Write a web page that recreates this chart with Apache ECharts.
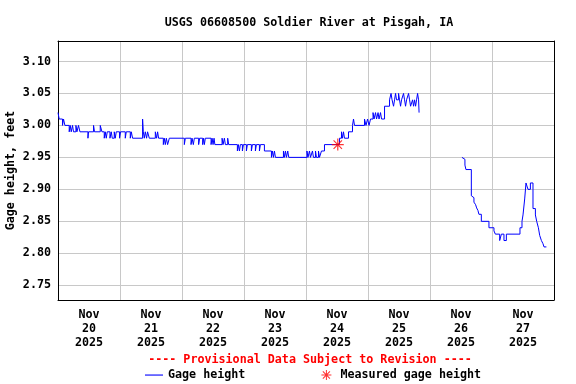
<!DOCTYPE html>
<html><head><meta charset="utf-8">
<script src="https://cdn.jsdelivr.net/npm/echarts@6/dist/echarts.min.js"></script>
<style>html,body{margin:0;padding:0;background:#fff}#c{width:576px;height:384px}</style>
</head><body><div id="c"></div>
<script>
// Hours since Nov 20 2025 00:00, gage height (ft)
const dayLabels = ['Nov\n20\n2025','Nov\n21\n2025','Nov\n22\n2025','Nov\n23\n2025','Nov\n24\n2025','Nov\n25\n2025','Nov\n26\n2025','Nov\n27\n2025'];
const gageA = [
[0,3.02],[0.46,3.01],[1.74,3.00],[2.13,3.01],[2.67,3.00],[4.34,2.99],[4.73,3.00],[5.12,2.99],[5.62,3.00],[6.01,2.99],
[6.94,3.00],[7.32,2.99],[7.94,3.00],[8.49,2.99],[11.59,2.98],[11.82,2.99],[13.76,3.00],[14.14,2.99],[16.35,3.00],[17.01,2.99],
[17.9,2.98],[18.29,2.99],[18.68,2.98],[19.07,2.99],[20.11,2.98],[20.62,2.99],[21.0,2.98],[21.78,2.99],[22.17,2.98],[22.55,2.99],
[23.83,2.98],[24.22,2.99],[26.04,2.98],[26.43,2.99],[27.98,2.98],[28.37,2.99],[28.87,2.98],[32.74,3.01],[33.02,2.99],[33.4,2.98],
[33.79,2.99],[34.29,2.98],[34.68,2.99],[35.34,2.98],[37.67,2.99],[38.17,2.98],[38.56,2.99],[38.94,2.98],[40.77,2.97],[41.15,2.98],
[41.54,2.97],[41.93,2.98],[42.43,2.97],[43.09,2.98],[48.9,2.97],[49.29,2.98],[51.5,2.97],[51.89,2.98],[52.39,2.97],[52.78,2.98],
[54.44,2.97],[54.83,2.98],[56.0,2.97],[56.38,2.98],[56.65,2.97],[57.04,2.98],[59.25,2.97],[59.64,2.98],[60.02,2.97],[60.41,2.98],
[60.72,2.97],[63.51,2.98],[63.9,2.97],[64.4,2.98],[64.79,2.97],[65.68,2.98],[66.07,2.97],[69.44,2.96],[69.83,2.97],[70.22,2.96],
[70.6,2.97],[71.38,2.96],[71.77,2.97],[72.93,2.96],[73.31,2.97],[74.86,2.96],[75.25,2.97],[76.41,2.96],[76.8,2.97],[77.97,2.96],
[78.35,2.97],[79.9,2.96],[82.62,2.95],[83.0,2.96],[83.39,2.95],[83.78,2.96],[84.17,2.95],[87.27,2.96],[87.66,2.95],[88.04,2.96],
[88.43,2.95],[88.93,2.96],[89.32,2.95],[96.37,2.96],[96.76,2.95],[97.34,2.96],[97.73,2.95],[98.5,2.96],[98.89,2.95],[99.67,2.96],
[100.05,2.95],[100.83,2.96],[101.22,2.95],[101.99,2.96],[103.15,2.97],[108.96,2.98],[109.74,2.99],[110.13,2.98],[110.51,2.99],[110.9,2.98],
[112.45,2.99],[114.0,3.00],[114.39,3.01],[114.78,3.00],[118.65,3.01],[119.23,3.00],[119.82,3.01],[120.4,3.00],[120.98,3.01],[121.95,3.02],
[122.34,3.01],[122.92,3.02],[123.31,3.01],[123.89,3.02],[124.27,3.01],[124.85,3.02],[125.24,3.01],[126.4,3.03],[128.34,3.04],[128.92,3.05],
[129.31,3.04],[129.89,3.03],[130.28,3.04],[130.66,3.05],[131.05,3.04],[131.83,3.05],[132.21,3.04],[132.6,3.03],[132.99,3.04],[133.76,3.05],
[134.15,3.04],[134.54,3.03],[134.93,3.04],[135.7,3.05],[136.09,3.04],[136.48,3.03],[137.25,3.04],[137.64,3.03],[138.03,3.04],[138.42,3.03],
[138.8,3.04],[139.19,3.05],[139.58,3.04],[139.77,3.02]
];
const gageB = [
[156.36,2.95],[157.13,2.947],[157.52,2.938],[157.91,2.931],[160.0,2.89],[160.62,2.887],[161.01,2.88],[161.66,2.876],[162.05,2.871],[162.56,2.867],
[162.94,2.861],[163.87,2.85],[166.82,2.84],[168.76,2.835],[169.3,2.83],[170.97,2.82],[171.63,2.83],[172.63,2.82],[173.56,2.83],[178.83,2.84],
[179.61,2.85],[180.0,2.86],[180.65,2.885],[181.16,2.91],[181.93,2.90],[182.86,2.91],[183.87,2.87],[184.8,2.86],[185.3,2.85],[185.96,2.84],
[186.46,2.828],[187.12,2.82],[187.74,2.815],[188.13,2.81],[189.06,2.81]
];
const measured = [[108.3, 2.97]];
const yMin = 2.727, yMax = 3.132;

const FONT = 'DejaVu Sans Mono';
const txt = {fontFamily: FONT, fontWeight: 'bold', fontSize: 11.7, color: '#000'};
const star = 'path://M-0.6,-6L0.6,-6L0.6,6L-0.6,6Z M-6,-0.6L6,-0.6L6,0.6L-6,0.6Z M-4.6,-3.8L-3.8,-4.6L4.6,3.8L3.8,4.6Z M3.8,-4.6L4.6,-3.8L-3.8,4.6L-4.6,3.8Z';
const starLegend = 'path://M-9,-6L-9,-6 M9,6L9,6 M-0.5,-5L0.5,-5L0.5,5L-0.5,5Z M-5,-0.5L5,-0.5L5,0.5L-5,0.5Z M-3.9,-3.2L-3.2,-3.9L3.9,3.2L3.2,3.9Z M3.2,-3.9L3.9,-3.2L-3.2,3.9L-3.9,3.2Z';
const lineLegend = 'path://M0,0L0,0 M18,12L18,12 M0,5.5L18,5.5L18,6.6L0,6.6Z';

const lineData = gageA.concat([[139.8, null]], gageB);

const chart = echarts.init(document.getElementById('c'), null, {renderer: 'canvas'});
chart.setOption({
  animation: false,
  backgroundColor: '#fff',
  title: [
    {text: 'USGS 06608500 Soldier River at Pisgah, IA', left: 304, top: 12, textAlign: 'center',
     textStyle: Object.assign({}, txt)},
    {text: '---- Provisional Data Subject to Revision ----', left: 305, top: 349, textAlign: 'center',
     textStyle: Object.assign({}, txt, {color: '#ff0000'})}
  ],
  legend: {
    left: 140, top: 364, itemGap: 72, itemWidth: 18, itemHeight: 12,
    textStyle: Object.assign({}, txt),
    data: [{name: 'Gage height', icon: lineLegend}, {name: 'Measured gage height', icon: starLegend}]
  },
  grid: {left: 58, right: 22, top: 41, bottom: 84, containLabel: false, outerBoundsMode: 'none'},
  xAxis: [
    {type: 'value', min: 0, max: 192, interval: 24, position: 'bottom',
     axisLine: {show: true, onZero: false, lineStyle: {color: '#000', width: 1}},
     axisTick: {show: false}, axisLabel: {show: false},
     splitLine: {show: true, lineStyle: {color: '#c8c8c8', width: 1}}},
    {type: 'category', data: dayLabels, boundaryGap: true, position: 'bottom',
     axisLine: {show: false}, axisTick: {show: false}, splitLine: {show: false},
     axisLabel: Object.assign({}, txt, {margin: 8, lineHeight: 14, interval: 0})},
    {type: 'value', min: 0, max: 192, position: 'top',
     axisLine: {show: true, onZero: false, lineStyle: {color: '#000', width: 1}},
     axisTick: {show: false}, axisLabel: {show: false}, splitLine: {show: false}}
  ],
  yAxis: [
    {type: 'value', min: yMin, max: yMax, splitNumber: 8, position: 'left',
     name: 'Gage height, feet', nameLocation: 'middle', nameGap: 41, nameRotate: 90,
     nameMoveOverlap: false,
     nameTextStyle: Object.assign({}, txt),
     axisLine: {show: true, onZero: false, lineStyle: {color: '#000', width: 1}},
     axisTick: {show: false},
     axisLabel: Object.assign({}, txt, {margin: 7, showMinLabel: false, showMaxLabel: false,
       formatter: v => v.toFixed(2)}),
     splitLine: {show: true, lineStyle: {color: '#c8c8c8', width: 1}}},
    {type: 'value', min: yMin, max: yMax, position: 'right',
     axisLine: {show: true, onZero: false, lineStyle: {color: '#000', width: 1}},
     axisTick: {show: false}, axisLabel: {show: false}, splitLine: {show: false}}
  ],
  series: [
    {name: 'Gage height', type: 'line', xAxisIndex: 0, yAxisIndex: 0, step: 'end',
     data: lineData, showSymbol: false, symbol: 'none', connectNulls: false,
     lineStyle: {color: '#0000ff', width: 1}, itemStyle: {color: '#0000ff'}, z: 3},
    {name: 'Measured gage height', type: 'scatter', xAxisIndex: 0, yAxisIndex: 0,
     data: measured, symbol: star, symbolSize: 12,
     itemStyle: {color: '#ff0000'}, z: 4}
  ]
});
</script>
</body></html>
